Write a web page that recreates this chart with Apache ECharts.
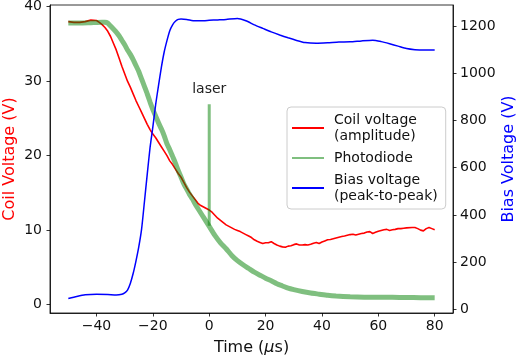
<!DOCTYPE html>
<html>
<head>
<meta charset="utf-8">
<script src="https://cdn.jsdelivr.net/npm/echarts@6/dist/echarts.min.js"></script>
<style>html,body{margin:0;padding:0;background:#fff}#c{width:520px;height:360px}</style>
</head>
<body>
<div id="c"></div>
<script>
// ---- data ----
const coilT = [-50,-48,-46,-44,-42,-40,-39,-38,-37,-36,-35,-34,-33,-32,-31,-30,-29,-28,-27,-26,-25,-24,-23,-22,-21,-20,-19,-18,-17,-16,-15,-14,-13,-12,-11,-10,-9,-8,-7,-6,-5,-4,-3,-2,-1,0,1,2,3,4,5,6,7,8,9,10,11,12,13,14,15,16,17,18,19,20,21,22,23,24,25,26,27,28,29,30,31,32,33,34,35,36,37,38,39,40,41,42,43,44,45,46,47,48,49,50,51,52,53,54,55,56,57,58,59,60,61,62,63,64,65,66,67,68,69,70,72,73,74,75,76,77,78,79,80];
const coilV = [38.0,37.9,37.9,38.0,38.2,38.15,37.9,37.6,37.2,36.7,36.0,35.1,34.2,33.1,32.0,31.0,30.0,29.2,28.3,27.4,26.6,25.8,25.0,24.2,23.5,22.9,22.4,21.8,21.2,20.6,20.0,19.3,18.8,18.2,17.6,17.1,16.4,15.7,15.1,14.6,14.1,13.6,13.3,13.1,12.9,12.7,12.4,12.0,11.6,11.3,11.0,10.7,10.5,10.3,10.1,9.95,9.8,9.6,9.4,9.2,9.0,8.7,8.5,8.35,8.2,8.3,8.3,8.45,8.2,8.0,7.85,7.75,7.7,7.85,7.9,8.05,8.15,8.0,8.0,8.05,8.0,8.1,8.25,8.35,8.2,8.4,8.55,8.7,8.75,8.85,8.95,9.05,9.15,9.2,9.3,9.4,9.45,9.35,9.45,9.55,9.6,9.75,9.8,9.55,9.7,9.85,9.95,10.05,10.1,9.95,10.05,10.1,10.2,10.2,10.25,10.3,10.35,10.35,10.2,10.0,9.9,10.2,10.35,10.2,10.05];

const photoT = [-50,-46,-42,-38,-37,-36,-35,-34,-33,-32,-31,-30,-29,-28,-27,-26,-25,-24,-23,-22,-21,-20,-19,-18,-17,-16,-15,-14,-13,-12,-11,-10,-9,-8,-7,-6,-5,-4,-3,-2,-1,0,2,4,6,8,10,12,14,16,18,20,22,24,26,28,30,33,36,39,42,45,50,55,60,65,70,75,80];
const photoV = [37.8,37.8,37.85,37.9,37.9,37.8,37.4,37.0,36.6,36.1,35.5,34.9,34.2,33.6,32.9,32.1,31.3,30.3,29.3,28.3,27.2,26.2,25.3,24.4,23.6,22.7,21.6,20.8,19.9,19.0,18.0,17.1,16.2,15.5,14.8,14.2,13.5,12.9,12.3,11.7,11.1,10.5,9.3,8.3,7.5,6.6,5.9,5.35,4.85,4.35,3.95,3.55,3.2,2.8,2.5,2.2,2.0,1.75,1.55,1.4,1.25,1.15,1.05,1.0,0.98,0.97,0.95,0.93,0.92];

const biasT = [-50,-47,-44,-40,-36,-33,-31,-30,-29,-28,-27,-26,-25,-24,-23,-22,-21,-20,-19,-18,-17,-16,-15,-14,-13,-12,-11,-10,-8,-5,-2,0,3,6,10,13,16,19,22,25,28,31,34,38,42,46,50,54,58,61,64,67,70,73,76,80];
const biasV = [46,55,62,64,63,61,64,70,82,110,152,205,265,340,455,572,685,773,868,948,1024,1089,1138,1180,1205,1220,1228,1230,1228,1222,1222,1224,1226,1228,1232,1222,1205,1190,1175,1162,1150,1139,1130,1127,1129,1132,1133,1137,1140,1134,1125,1115,1105,1100,1098,1098];

const laserT = [0, 0];
const laserV = [10.6, 26.9];

const timeTicks = [-40, -20, 0, 20, 40, 60, 80];
const coilTicks = [0, 10, 20, 30, 40];
const biasTicks = [0, 200, 400, 600, 800, 1000, 1200];

const names = ['Coil voltage\n(amplitude)', 'Photodiode', 'Bias voltage\n(peak-to-peak)'];

// ---- chart ----
const zip = (a, b) => a.map((x, i) => [x, b[i]]);
const FONT = 'DejaVu Sans';
const plain = v => String(v).replace('-', '\u2212');
const chart = echarts.init(document.getElementById('c'), null, {renderer: 'canvas'});
const axisLine = {show: true, onZero: false, lineStyle: {color: '#000', width: 0.8}};
const tick = vals => ({show: true, inside: false, length: 3.5, customValues: vals, lineStyle: {color: '#000', width: 0.8}});
const lab = (vals, margin) => ({customValues: vals, formatter: plain, fontSize: 14, color: '#111', fontFamily: FONT, margin: margin});
chart.setOption({
  animation: false,
  backgroundColor: '#fff',
  textStyle: {fontFamily: FONT},
  grid: {left: 50, right: 67, top: 5, bottom: 47, show: true, borderColor: '#000', borderWidth: 0.8,
    containLabel: false, outerBoundsMode: 'none'},
  xAxis: {
    type: 'value', min: -56.5, max: 86.5,
    axisLine: axisLine, axisTick: tick(timeTicks), axisLabel: lab(timeTicks, 6), splitLine: {show: false},
    name: 'Time ({i|μ}s)', nameLocation: 'middle', nameGap: 27, nameMoveOverlap: false,
    nameTextStyle: {fontSize: 16, color: '#111', fontFamily: FONT,
      rich: {i: {fontStyle: 'italic', fontSize: 16, fontFamily: FONT, color: '#111'}}}
  },
  yAxis: [
    {
      type: 'value', position: 'left', min: -1.13, max: 40.23,
      axisLine: axisLine, axisTick: tick(coilTicks), axisLabel: lab(coilTicks, 8), splitLine: {show: false},
      name: 'Coil Voltage (V)', nameLocation: 'middle', nameGap: 32, nameRotate: 90, nameMoveOverlap: false,
      nameTextStyle: {fontSize: 16, color: '#ff0000', fontFamily: FONT}
    },
    {
      type: 'value', position: 'right', min: -15, max: 1289,
      axisLine: axisLine, axisTick: tick(biasTicks), axisLabel: lab(biasTicks, 7), splitLine: {show: false},
      name: 'Bias Voltage (V)', nameLocation: 'middle', nameGap: 48, nameRotate: 90, nameMoveOverlap: false,
      nameTextStyle: {fontSize: 16, color: '#0000ff', fontFamily: FONT}
    }
  ],
  legend: {
    orient: 'vertical', left: 287, top: 107,
    data: names,
    icon: 'rect', itemWidth: 32, itemHeight: 2, itemGap: 6,
    padding: [5, 8, 5, 5],
    borderColor: '#cccccc', borderWidth: 1, borderRadius: 4,
    backgroundColor: 'rgba(255,255,255,0.8)',
    textStyle: {fontSize: 14, lineHeight: 16, color: '#111', fontFamily: FONT, padding: [0, 0, 0, 5]}
  },
  series: [
    {name: names[0], type: 'line', yAxisIndex: 0, data: zip(coilT, coilV), showSymbol: false, symbol: 'none',
      lineStyle: {color: '#ff0000', width: 1.6}, itemStyle: {color: '#ff0000'}},
    {name: names[1], type: 'line', yAxisIndex: 0, data: zip(photoT, photoV), showSymbol: false, symbol: 'none', smooth: 0.2,
      lineStyle: {color: 'rgba(0,128,0,0.5)', width: 5}, itemStyle: {color: 'rgba(0,128,0,0.5)'}},
    {name: 'laser', type: 'line', yAxisIndex: 0, data: zip(laserT, laserV), symbol: 'circle', symbolSize: 0, showSymbol: true,
      lineStyle: {color: 'rgba(0,128,0,0.5)', width: 3}, itemStyle: {color: 'rgba(0,128,0,0.5)'},
      label: {show: true, position: 'top', distance: 8, formatter: p => p.dataIndex === 1 ? 'laser' : '',
        fontSize: 14, color: '#222', fontFamily: FONT}},
    {name: names[2], type: 'line', yAxisIndex: 1, data: zip(biasT, biasV), showSymbol: false, symbol: 'none', smooth: 0.2,
      lineStyle: {color: '#0000ff', width: 1.5}, itemStyle: {color: '#0000ff'}}
  ]
});
</script>
</body>
</html>
